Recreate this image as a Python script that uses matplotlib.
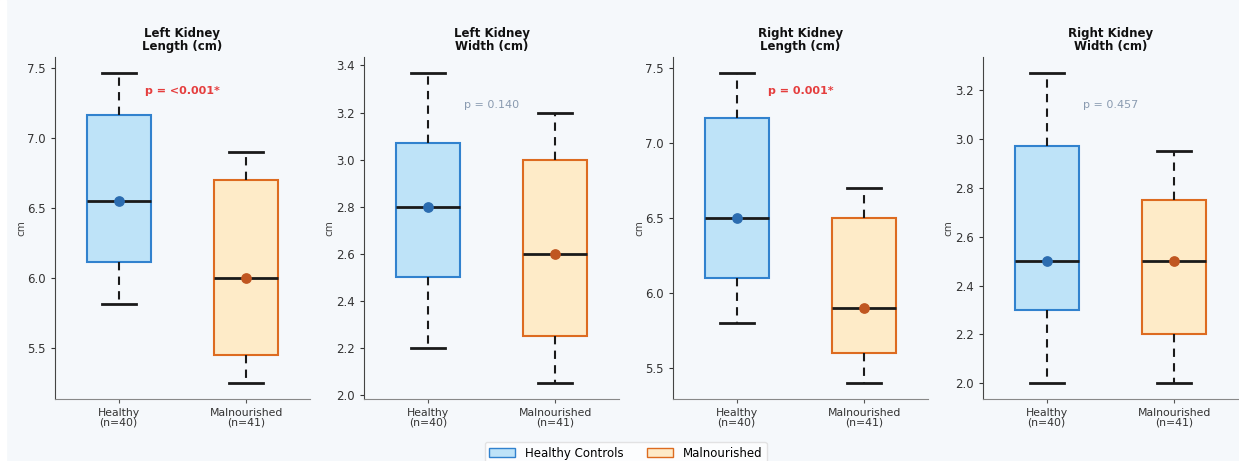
import matplotlib
matplotlib.use("Agg")
import matplotlib.pyplot as plt
from matplotlib.patches import Patch, Rectangle

titles = ["Left Kidney\nLength (cm)", "Left Kidney\nWidth (cm)", "Right Kidney\nLength (cm)", "Right Kidney\nWidth (cm)"]
groups = ["Healthy\n(n=40)", "Malnourished\n(n=41)"]
p_labels = ["p = <0.001*", "p = 0.140", "p = 0.001*", "p = 0.457"]
significant = [True, False, True, False]

# [healthy, malnourished] for each measure
whislo = [[5.82, 5.25], [2.20, 2.05], [5.80, 5.40], [2.00, 2.00]]
q1     = [[6.12, 5.45], [2.50, 2.25], [6.10, 5.60], [2.30, 2.20]]
med    = [[6.55, 6.00], [2.80, 2.60], [6.50, 5.90], [2.50, 2.50]]
q3     = [[7.17, 6.70], [3.07, 3.00], [7.17, 6.50], [2.97, 2.75]]
whishi = [[7.47, 6.90], [3.37, 3.20], [7.47, 6.70], [3.27, 2.95]]
means  = [[6.55, 6.00], [2.80, 2.60], [6.50, 5.90], [2.50, 2.50]]

fills = ["#BEE3F8", "#FEEBC8"]
edges = ["#3182CE", "#DD6B20"]
dots = ["#2B6CB0", "#C05621"]
bg = "#F5F8FB"

fig = plt.figure(figsize=(12.39, 4.61), dpi=100, facecolor=bg)
fig.patches.append(Rectangle((0, 0), 6 / 1239, 1, transform=fig.transFigure, color="white", zorder=-1))

ax_w = 255 / 1239
step = 309 / 1239
for i in range(4):
    left = 55 / 1239 + i * step
    if i == 3:
        left = 983 / 1239
    ax = fig.add_axes([left, 62 / 461, ax_w, 342 / 461])
    ax.set_facecolor(bg)
    stats = []
    for g in range(2):
        stats.append(dict(whislo=whislo[i][g], q1=q1[i][g], med=med[i][g], q3=q3[i][g],
                          whishi=whishi[i][g], fliers=[], mean=means[i][g]))
    bp = ax.bxp(stats, positions=[0, 1], widths=0.5, capwidths=0.27, patch_artist=True,
                showfliers=False,
                medianprops=dict(color="#1a1a1a", linewidth=2),
                whiskerprops=dict(color="#1a1a1a", linewidth=1.5, linestyle=(0, (4, 3))),
                capprops=dict(color="#1a1a1a", linewidth=2))
    for g, box in enumerate(bp["boxes"]):
        box.set_facecolor(fills[g])
        box.set_edgecolor(edges[g])
        box.set_linewidth(1.5)
        ax.scatter([g], [means[i][g]], s=45, color=dots[g], zorder=5)
    ax.set_xlim(-0.5, 1.5)
    ax.set_xticks([0, 1])
    ax.set_xticklabels(groups, fontsize=7.8, color="#333333", linespacing=0.95)
    ax.tick_params(axis="y", labelsize=8.5, colors="#333333", length=3)
    ax.tick_params(axis="x", length=3, colors="#555555")
    for lab in ax.get_xticklabels():
        lab.set_color("#333333")
    for lab in ax.get_yticklabels():
        lab.set_color("#333333")
    ax.set_ylabel("cm", fontsize=7.5, color="#444444", labelpad=1)
    ax.set_title(titles[i], fontsize=8.5, fontweight="bold", color="#111111", pad=5, linespacing=1.0)
    ax.spines["top"].set_visible(False)
    ax.spines["right"].set_visible(False)
    ax.spines["left"].set_color("#444444")
    ax.spines["bottom"].set_color("#888888")
    if significant[i]:
        ax.text(0.5, 0.90, p_labels[i], transform=ax.transAxes, ha="center", va="center",
                fontsize=8, fontweight="bold", color="#E53E3E")
    else:
        ax.text(0.5, 0.86, p_labels[i], transform=ax.transAxes, ha="center", va="center",
                fontsize=8, color="#8A9BB0")

handles = [Patch(facecolor=fills[0], edgecolor=edges[0], label="Healthy Controls"),
           Patch(facecolor=fills[1], edgecolor=edges[1], label="Malnourished")]
fig.legend(handles=handles, loc="upper center", bbox_to_anchor=(0.505, 19 / 461), ncol=2,
           fontsize=8.5, frameon=True, facecolor="white", edgecolor="#DDDDDD",
           handlelength=2.2, columnspacing=2.0, borderaxespad=0)

fig.savefig("out.png", dpi=100, facecolor=bg)
